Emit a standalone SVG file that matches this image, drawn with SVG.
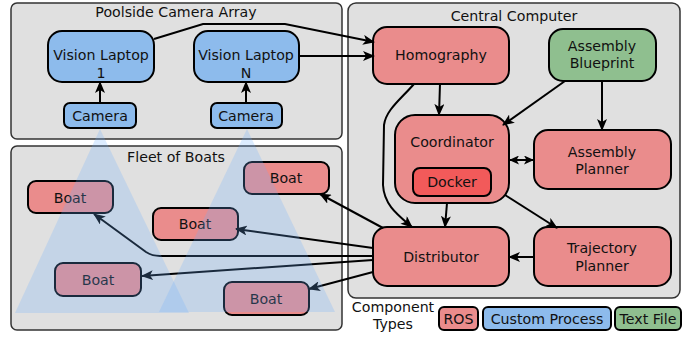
<svg xmlns="http://www.w3.org/2000/svg" width="699" height="337" viewBox="0 0 699 337">
<defs>
<marker id="ah" markerUnits="userSpaceOnUse" markerWidth="12" markerHeight="10" refX="11" refY="5" orient="auto-start-reverse" viewBox="0 0 12 10">
<path d="M0,0 L12,5 L0,10 L3,5 z" fill="#000"/>
</marker>
<marker id="ah2" markerUnits="userSpaceOnUse" markerWidth="10" markerHeight="9" refX="10" refY="4.5" orient="auto-start-reverse" viewBox="0 0 10 9">
<path d="M0,0 L10,4.5 L0,9 L2.5,4.5 z" fill="#000"/>
</marker>
<style>
text{font-family:"DejaVu Sans",sans-serif;font-size:14.2px;fill:#111;text-anchor:middle;dominant-baseline:central}
.panel{fill:#e0e0e0;stroke:#333;stroke-width:1.5}
.ros{fill:#ea8c8c;stroke:#000;stroke-width:2}
.blue{fill:#8dbbec;stroke:#000;stroke-width:2}
.green{fill:#8fbf8f;stroke:#000;stroke-width:2}
.dock{fill:#f25a5a;stroke:#000;stroke-width:2}
.c path,.c line{fill:none;stroke:#000;stroke-width:2;marker-end:url(#ah)}
.c .dbl{marker-end:url(#ah2);marker-start:url(#ah2)}
.fov{fill:#6eafff;opacity:0.24}
</style>
</defs>
<rect x="0" y="0" width="699" height="337" fill="#fff"/>
<g id="poolside"><rect class="panel" x="11" y="3" width="331" height="136" rx="6"/><text x="176" y="12">Poolside Camera Array</text></g>
<g id="fleet"><rect class="panel" x="11" y="146" width="331" height="184" rx="6"/><text x="176" y="157">Fleet of Boats</text></g>
<g id="central"><rect class="panel" x="348" y="3" width="332" height="295" rx="8"/><text x="514" y="16">Central Computer</text></g>

<g id="laptop1"><rect class="blue" x="48" y="31" width="106" height="51" rx="14"/><text x="101" y="55">Vision Laptop</text><text x="101" y="73">1</text></g>
<g id="laptopN"><rect class="blue" x="194" y="31" width="105" height="51" rx="14"/><text x="246" y="55">Vision Laptop</text><text x="246" y="73">N</text></g>
<g id="camera1"><rect class="blue" x="64" y="103" width="72" height="25" rx="6"/><text x="100" y="116">Camera</text></g>
<g id="cameraN"><rect class="blue" x="211" y="103" width="71" height="25" rx="6"/><text x="246" y="116">Camera</text></g>

<g id="homography"><rect class="ros" x="373" y="27" width="136" height="57" rx="14"/><text x="441" y="55">Homography</text></g>
<g id="blueprint"><rect class="green" x="549" y="29" width="107" height="52" rx="14"/><text x="602" y="46">Assembly</text><text x="602" y="63">Blueprint</text></g>
<g id="coordinator"><rect class="ros" x="395" y="115" width="114" height="88" rx="20"/><text x="452" y="142">Coordinator</text>
<g id="docker"><rect class="dock" x="413" y="168" width="78" height="28" rx="7"/><text x="452" y="182">Docker</text></g></g>
<g id="asmplanner"><rect class="ros" x="534" y="130" width="137" height="59" rx="14"/><text x="602" y="152">Assembly</text><text x="602" y="169">Planner</text></g>
<g id="distributor"><rect class="ros" x="373" y="227" width="136" height="59" rx="14"/><text x="441" y="257">Distributor</text></g>
<g id="trajplanner"><rect class="ros" x="534" y="227" width="137" height="59" rx="14"/><text x="602" y="248">Trajectory</text><text x="602" y="266">Planner</text></g>

<g id="boat1"><rect class="ros" x="28" y="181" width="85" height="32" rx="8"/><text x="70" y="198">Boat</text></g>
<g id="boat2"><rect class="ros" x="153" y="208" width="85" height="32" rx="8"/><text x="195" y="224">Boat</text></g>
<g id="boat3"><rect class="ros" x="244" y="162" width="85" height="32" rx="8"/><text x="286" y="178">Boat</text></g>
<g id="boat4"><rect class="ros" x="55" y="263" width="86" height="33" rx="8"/><text x="98" y="280">Boat</text></g>
<g id="boat5"><rect class="ros" x="224" y="282" width="85" height="33" rx="8"/><text x="266" y="299">Boat</text></g>

<g id="legend"><text x="393" y="307">Component</text><text x="393" y="324">Types</text>
<rect class="ros" x="439" y="307" width="39" height="23" rx="5"/><text x="458.5" y="319">ROS</text>
<rect class="blue" x="483" y="307" width="128" height="23" rx="5"/><text x="547" y="319">Custom Process</text>
<rect class="green" x="615" y="307" width="66" height="23" rx="5"/><text x="648" y="319">Text File</text></g>

<g id="connectors" class="c">
<line x1="100" y1="103" x2="100" y2="82"/>
<line x1="246" y1="103" x2="246" y2="82"/>
<path d="M154,39 L203,24 L285,24 L374,42"/>
<line x1="299" y1="56" x2="374" y2="56"/>
<line x1="440" y1="84" x2="439" y2="115"/>
<path d="M414,84 C400,100 386,110 384,125 L383,185 C384,205 398,215 412,227"/>
<line x1="565" y1="81" x2="503" y2="125"/>
<line x1="602" y1="81" x2="602" y2="130"/>
<line class="dbl" x1="509" y1="160" x2="534" y2="160"/>
<line x1="447" y1="203" x2="445" y2="227"/>
<line x1="505" y1="195" x2="557" y2="228"/>
<line x1="534" y1="257" x2="509" y2="257"/>
<line x1="383" y1="228" x2="320" y2="194"/>
<line x1="373" y1="248" x2="236" y2="229"/>
<path d="M373,256 L160,256 Q152,256 146,252 L94,214"/>
<line x1="373" y1="260" x2="142" y2="276"/>
<line x1="373" y1="272" x2="309" y2="289"/>
</g>

<g id="fields">
<polygon class="fov" points="100,129 189,313 15,313"/>
<polygon class="fov" points="247,129 335,312 159,312"/>
</g>
</svg>
